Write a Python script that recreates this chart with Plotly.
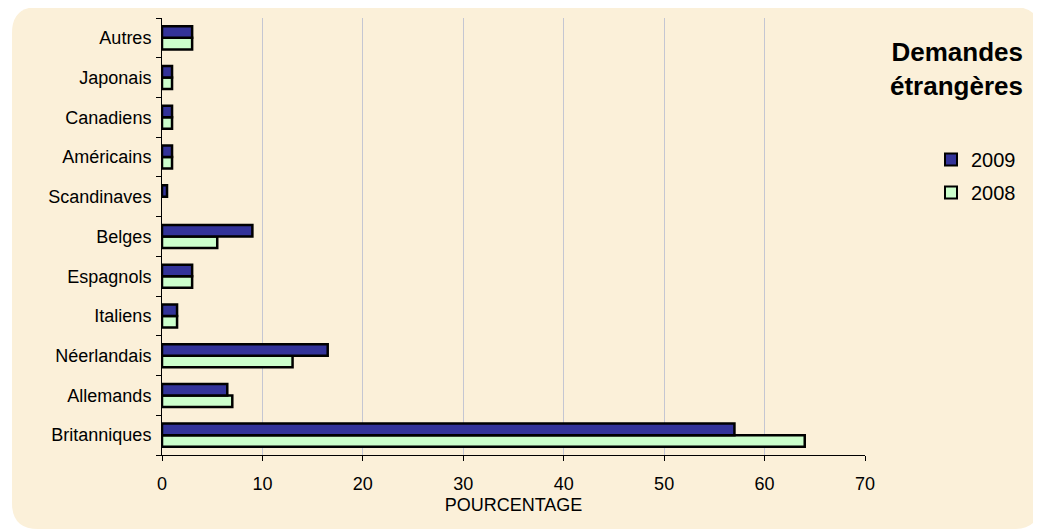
import plotly.graph_objects as go

categories = ["Britanniques", "Allemands", "Néerlandais", "Italiens", "Espagnols",
              "Belges", "Scandinaves", "Américains", "Canadiens", "Japonais", "Autres"]
values_2009 = [57, 6.5, 16.5, 1.5, 3, 9, 0.5, 1, 1, 1, 3]
values_2008 = [64, 7, 13, 1.5, 3, 5.5, 0, 1, 1, 1, 3]
x_ticks = [0, 10, 20, 30, 40, 50, 60, 70]

OFF = 8  # page body margin
W, H = 1041 - OFF, 529 - OFF
L, R, T, B = 162 - OFF, 176, 18 - OFF, 74
pw, ph = W - L - R, H - T - B

def px(x):  # reference page pixel -> paper
    return (x - OFF - L) / pw

def py(y):
    return (H - B - (y - OFF)) / ph

def edge(vals):
    return [2.5 if v > 0 else 0 for v in vals]

fig = go.Figure()
fig.add_trace(go.Bar(y=categories, x=values_2008, orientation="h", name="2008",
                     legendgroup="a", legendrank=2,
                     marker=dict(color="#CCFFCC", line=dict(color="#000000", width=edge(values_2008)))))
fig.add_trace(go.Bar(y=categories, x=values_2009, orientation="h", name="2009",
                     legendgroup="b", legendrank=1,
                     marker=dict(color="#333399", line=dict(color="#000000", width=edge(values_2009)))))

# rounded background panel
x0, x1, y0, y1, r = 12, 1040, 7, 529, 26
path = (f"M {px(x0+r)},{py(y0)} L {px(x1-r)},{py(y0)} Q {px(x1)},{py(y0)} {px(x1)},{py(y0+r)} "
        f"L {px(x1)},{py(y1-r)} Q {px(x1)},{py(y1)} {px(x1-r)},{py(y1)} "
        f"L {px(x0+r)},{py(y1)} Q {px(x0)},{py(y1)} {px(x0)},{py(y1-r)} "
        f"L {px(x0)},{py(y0+r)} Q {px(x0)},{py(y0)} {px(x0+r)},{py(y0)} Z")
fig.add_shape(type="path", path=path, xref="paper", yref="paper", layer="below",
              fillcolor="#FBF0D9", line=dict(width=0))

fig.add_annotation(text="<b>Demandes<br>étrangères</b>", xref="paper", yref="paper",
                   x=px(1025), y=py(35), xanchor="right", yanchor="top", align="right",
                   showarrow=False, font=dict(size=26, color="#000000"))

fig.update_layout(
    width=W, height=H,
    margin=dict(l=L, r=R, t=T, b=B),
    paper_bgcolor="#FFFFFF",
    plot_bgcolor="rgba(0,0,0,0)",
    barmode="group", bargap=0.42, bargroupgap=0,
    font=dict(family="Liberation Sans, Arial, sans-serif", size=18, color="#000000"),
    showlegend=True,
    legend=dict(x=px(931), y=py(140), xanchor="left", yanchor="top",
                traceorder="grouped",
                font=dict(size=20), bgcolor="rgba(0,0,0,0)", itemsizing="constant",
                tracegroupgap=4),
    xaxis=dict(range=[0, 70], tickvals=x_ticks, showgrid=True, gridcolor="#C4C6D2",
               gridwidth=1, showline=True, linecolor="#000000", linewidth=1,
               ticks="outside", ticklen=5, tickcolor="#000000", zeroline=False,
               ticklabelstandoff=7,
               title=dict(text="POURCENTAGE", font=dict(size=18), standoff=5)),
    yaxis=dict(showline=True, linecolor="#000000", linewidth=1, ticks="outside",
               tickson="boundaries", ticklen=5, tickcolor="#000000", showgrid=False,
               categoryorder="array", categoryarray=categories, ticklabelstandoff=6),
)

fig.write_html("out.html")
